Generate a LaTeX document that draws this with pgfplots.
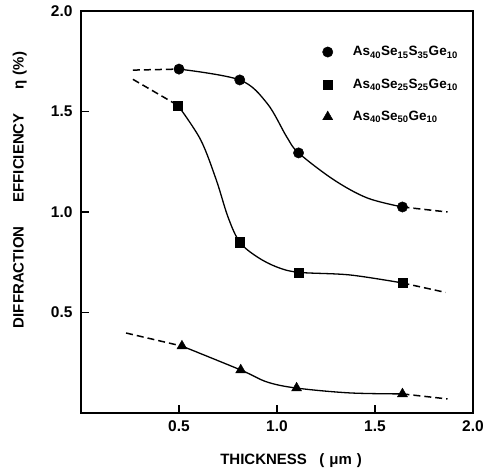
\documentclass[border=0pt]{standalone}
\usepackage{fontspec}
\setmainfont{Liberation Sans}
\usepackage{pgfplots}
\pgfplotsset{compat=1.18}

\begin{document}
\begin{tikzpicture}[x=1pt,y=1pt]
\useasboundingbox (-81,-62) rectangle (403,413);
\begin{axis}[
  at={(0,0)}, anchor=south west,
  scale only axis, width=392pt, height=402pt,
  xmin=0, xmax=2, ymin=0, ymax=2,
  xtick={0.5,1.0,1.5,2.0}, ytick={0.5,1.0,1.5,2.0},
  xticklabels={0.5,1.0,1.5,2.0}, yticklabels={0.5,1.0,1.5,2.0},
  xtick pos=bottom, ytick pos=left, tick align=inside,
  major tick length=8pt,
  axis line style={line width=1.6pt},
  every tick/.style={black, line width=1.4pt},
  ticklabel style={font=\fontsize{15.5}{17}\selectfont\bfseries},
  xticklabel style={yshift=-4pt},
  yticklabel style={xshift=-5pt},
  /pgf/number format/assume math mode=true,
  xlabel={THICKNESS\ \ \ (\,\,μm\,\,)},
  ylabel={DIFFRACTION\hspace{24pt}EFFICIENCY\hspace{24pt}η\,\,(\%)},
  label style={font=\fontsize{15}{17}\selectfont\bfseries},
  xlabel style={at={(axis description cs:0.536,-0.119)}, anchor=center},
  ylabel style={at={(axis description cs:-0.156,0.555)}, anchor=center},
  legend style={at={(axis description cs:0.608,0.922)}, anchor=north west,
    draw=none, fill=none, font=\fontsize{13.5}{15}\selectfont\bfseries,
    row sep=17.5pt},
  legend cell align=left,
  clip=false,
]
% markers (legend entries)
\addplot[only marks, mark=*, mark size=5.2pt, black] coordinates {
  (0.50,1.711) (0.81,1.657) (1.11,1.294) (1.64,1.025)};
\addlegendentry{\hspace{18pt}As\textsubscript{40}Se\textsubscript{15}S\textsubscript{35}Ge\textsubscript{10}}
\addplot[only marks, mark=square*, mark size=4.6pt, black] coordinates {
  (0.495,1.53) (0.81,0.85) (1.11,0.70) (1.64,0.647)};
\addlegendentry{\hspace{18pt}As\textsubscript{40}Se\textsubscript{25}S\textsubscript{25}Ge\textsubscript{10}}
\addplot[only marks, mark=triangle*, mark size=5.8pt, black] coordinates {
  (0.515,0.333) (0.815,0.214) (1.10,0.124) (1.64,0.095)};
\addlegendentry{\hspace{18pt}As\textsubscript{40}Se\textsubscript{50}Ge\textsubscript{10}}

% solid curves
\addplot[forget plot, black, line width=1.3pt, smooth, tension=0.55] coordinates {
  (0.50,1.711) (0.81,1.657) (0.95,1.54) (1.05,1.373) (1.11,1.294)
  (1.29,1.16) (1.46,1.07) (1.64,1.025)};
\addplot[forget plot, black, line width=1.3pt, smooth, tension=0.55] coordinates {
  (0.495,1.53) (0.61,1.36) (0.69,1.16) (0.75,0.975) (0.81,0.85)
  (0.90,0.776) (1.00,0.726) (1.11,0.70) (1.37,0.687) (1.64,0.647)};
\addplot[forget plot, black, line width=1.3pt, smooth, tension=0.55] coordinates {
  (0.515,0.333) (0.815,0.214) (0.95,0.154) (1.10,0.124) (1.37,0.10) (1.64,0.095)};

% dashed extrapolations
\addplot[forget plot, black, line width=1.5pt, dash pattern=on 7pt off 4pt] coordinates {(0.265,1.706) (0.50,1.711)};
\addplot[forget plot, black, line width=1.5pt, dash pattern=on 7pt off 4pt] coordinates {(1.64,1.025) (1.87,1.0)};
\addplot[forget plot, black, line width=1.5pt, dash pattern=on 7pt off 4pt] coordinates {(0.265,1.66) (0.495,1.53)};
\addplot[forget plot, black, line width=1.5pt, dash pattern=on 7pt off 4pt] coordinates {(1.64,0.647) (1.86,0.60)};
\addplot[forget plot, black, line width=1.5pt, dash pattern=on 7pt off 4pt] coordinates {(0.23,0.398) (0.515,0.333)};
\addplot[forget plot, black, line width=1.5pt, dash pattern=on 7pt off 4pt] coordinates {(1.64,0.095) (1.87,0.07)};
\end{axis}
\end{tikzpicture}
\end{document}
